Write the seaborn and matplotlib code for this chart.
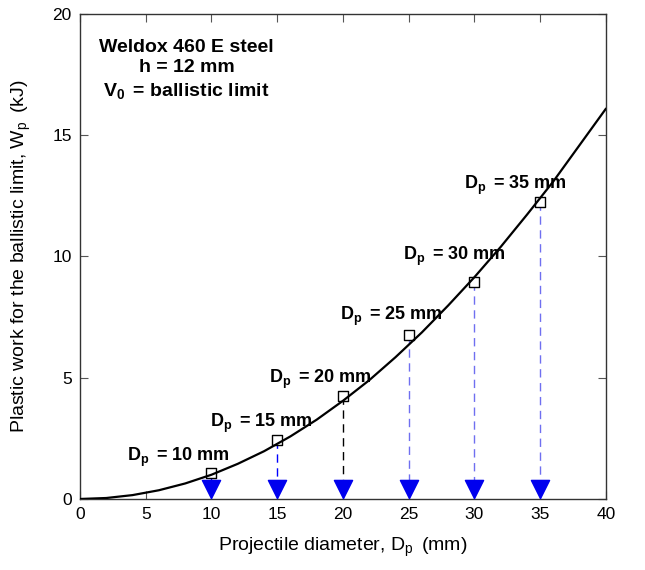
import numpy as np, pandas as pd, matplotlib
matplotlib.use('Agg')
import matplotlib.pyplot as plt
import seaborn as sns

# curve
curve_d = list(range(0, 41, 2))
curve_w = [0, 0.04, 0.16, 0.36, 0.64, 1.0, 1.45, 1.97, 2.58, 3.27, 4.05,
           4.9, 5.85, 6.87, 7.98, 9.15, 10.4, 11.73, 13.1, 14.6, 16.1]
# simulated points
dp = [10, 15, 20, 25, 30, 35]
wp = [1.08, 2.45, 4.25, 6.75, 8.95, 12.25]
drop_colors = ['#0000ff', '#0000ff', '#000000', '#6f6ff0', '#6f6ff0', '#6f6ff0']
lab_x = [7.5, 13.8, 18.3, 23.7, 28.5, 33.1]
lab_y = [1.7, 3.1, 4.95, 7.55, 10.0, 12.95]

sns.set_style('ticks')
plt.rcParams['font.family'] = ['Liberation Sans', 'DejaVu Sans']
plt.rcParams['mathtext.fontset'] = 'custom'
plt.rcParams['mathtext.rm'] = 'Liberation Sans'
plt.rcParams['mathtext.bf'] = 'Liberation Sans:bold'
plt.rcParams['text.color'] = 'black'
plt.rcParams['axes.labelcolor'] = 'black'
plt.rcParams['xtick.color'] = 'black'
plt.rcParams['ytick.color'] = 'black'

fig = plt.figure(figsize=(6.45, 5.7), dpi=100)
ax = fig.add_axes([0.124, 0.1246, 0.8155, 0.8508])

for d, w, c in zip(dp, wp, drop_colors):
    ax.plot([d, d], [w, 0.45], ls=(0, (6, 4)), color=c, lw=1, zorder=1)
sns.scatterplot(x=dp, y=[0.42] * len(dp), marker='v', s=170, color='#0000ee', edgecolor='#0000ee', ax=ax, zorder=3)
sns.scatterplot(x=dp, y=wp, marker='s', s=50, color='white', edgecolor='black', linewidth=1, ax=ax, zorder=2)
sns.lineplot(x=curve_d, y=curve_w, color='black', lw=1.6, ax=ax, zorder=4)

for d, x, y in zip(dp, lab_x, lab_y):
    ax.text(x, y, r'$\mathbf{D_{p}}\,$' + f' = {d} mm', ha='center', va='center', fontsize=13, fontweight='bold')

ax.text(8.1, 17.7, 'Weldox 460 E steel\nh = 12 mm\n' + r'$\mathbf{V_0}\,$' + ' = ballistic limit',
        ha='center', va='center', fontsize=14, fontweight='bold', linespacing=1.3)

ax.set_xlim(0, 40)
ax.set_ylim(0, 20)
ax.set_xticks(range(0, 41, 5))
ax.set_yticks(range(0, 21, 5))
ax.tick_params(direction='in', top=True, right=True, labelsize=12.5, length=6, color='#555555', pad=6)
for s in ax.spines.values():
    s.set_visible(True)
    s.set_linewidth(1)
    s.set_color('#333333')
ax.set_xlabel(r'Projectile diameter, $\mathregular{D_p}\,$ (mm)', fontsize=14, labelpad=10)
ax.set_ylabel(r'Plastic work for the ballistic limit, $\mathregular{W_p}\,$ (kJ)', fontsize=14, labelpad=14)
fig.savefig('out.png', dpi=100)
